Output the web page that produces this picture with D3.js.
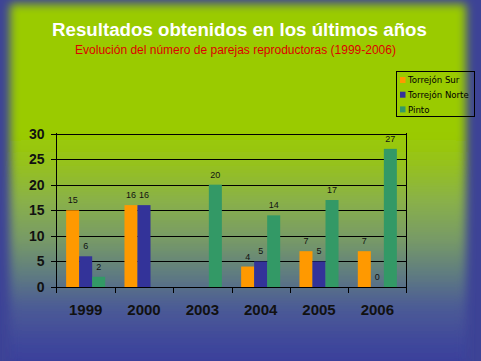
<!DOCTYPE html>
<html><head><meta charset="utf-8">
<script src="https://cdn.jsdelivr.net/npm/d3@7/dist/d3.min.js"></script>
<style>html,body{margin:0;padding:0;background:#363a9a;}svg{display:block;}</style>
</head><body>
<svg id="c" width="481" height="361"></svg>
<script>
const years = ["1999","2000","2003","2004","2005","2006"];
const seriesNames = ["Torrejón Sur","Torrejón Norte","Pinto"];
const torrejonSur   = [15, 16, null, 4, 7, 7];
const torrejonNorte = [6, 16, null, 5, 5, 0];
const pinto         = [2, null, 20, 14, 17, 27];
const yTicks = [0, 5, 10, 15, 20, 25, 30];
const colors = ["#ff9900", "#333399", "#339966"];
const title = "Resultados obtenidos en los últimos años";
const subtitle = "Evolución del número de parejas reproductoras (1999-2006)";

const seriesValues = [torrejonSur, torrejonNorte, pinto];
const svg = d3.select("#c");
const W = 481, H = 361;
const defs = svg.append("defs");

// background
const g = defs.append("linearGradient").attr("id","bg").attr("x1",0).attr("y1",0).attr("x2",0).attr("y2",1);
[[0,"#9acb00"],[0.34,"#9acb00"],[0.42,"#96c21c"],[0.52,"#89b04a"],[0.62,"#779a66"],[0.71,"#5f7c80"],[0.8,"#4b5a96"],[0.9,"#3e469b"],[1,"#35389a"]]
  .forEach(([o,c]) => g.append("stop").attr("offset",o).attr("stop-color",c));
const blur = defs.append("filter").attr("id","soft").attr("x","-10%").attr("y","-10%").attr("width","120%").attr("height","120%");
blur.append("feGaussianBlur").attr("stdDeviation",5);
svg.append("rect").attr("width",W).attr("height",H).attr("fill","#3d4396");
svg.append("rect").attr("x",10).attr("y",4).attr("width",456).attr("height",380)
  .attr("fill","url(#bg)").attr("filter","url(#soft)");

// titles
svg.append("text").attr("x",239.5).attr("y",36).attr("text-anchor","middle")
  .attr("font-family","Liberation Sans, Arial, sans-serif").attr("font-weight","bold")
  .attr("font-size",18.7).attr("fill","#ffffff").text(title);
svg.append("text").attr("x",235.5).attr("y",54).attr("text-anchor","middle")
  .attr("font-family","Liberation Sans, Arial, sans-serif")
  .attr("font-size",12).attr("fill","#dd0000").text(subtitle);

// scales
const x0 = d3.scaleBand().domain(years).range([56.5, 406.5]).paddingInner(0).paddingOuter(0);
const x1 = d3.scaleBand().domain(seriesNames).range([0, x0.bandwidth()]).paddingInner(0).paddingOuter(0.74);
const y = d3.scaleLinear().domain([0, 30]).range([287, 133.5]);

const plot = svg.append("g");
// gridlines
plot.selectAll("line.grid").data(yTicks).join("line")
  .attr("x1", 56.5).attr("x2", 406.5)
  .attr("y1", d => Math.round(y(d)) + 0.5).attr("y2", d => Math.round(y(d)) + 0.5)
  .attr("stroke", "#000").attr("stroke-width", 1);
// y ticks
plot.selectAll("line.yt").data(yTicks).join("line")
  .attr("x1", 51).attr("x2", 56.5)
  .attr("y1", d => Math.round(y(d)) + 0.5).attr("y2", d => Math.round(y(d)) + 0.5)
  .attr("stroke", "#000");
// axes verticals
plot.append("line").attr("x1",56.5).attr("x2",56.5).attr("y1",133).attr("y2",293).attr("stroke","#000");
plot.append("line").attr("x1",406.5).attr("x2",406.5).attr("y1",133).attr("y2",293).attr("stroke","#000");
// x ticks at band boundaries
const bounds = years.map(d => x0(d)).slice(1);
plot.selectAll("line.xt").data(bounds).join("line")
  .attr("x1", d => Math.round(d) + 0.5).attr("x2", d => Math.round(d) + 0.5)
  .attr("y1", 287).attr("y2", 293).attr("stroke", "#000");

// y labels
plot.selectAll("text.yl").data(yTicks).join("text")
  .attr("x", 44.5).attr("y", d => y(d) + 5)
  .attr("text-anchor","end").attr("font-family","Liberation Sans, Arial, sans-serif")
  .attr("font-weight","bold").attr("font-size",14).attr("fill","#111")
  .text(d => d);
// x labels
plot.selectAll("text.xl").data(years).join("text")
  .attr("x", d => x0(d) + x0.bandwidth()/2).attr("y", 315)
  .attr("text-anchor","middle").attr("font-family","Liberation Sans, Arial, sans-serif")
  .attr("font-weight","bold").attr("font-size",15).attr("fill","#111")
  .text(d => d);

// bars
const barData = [];
years.forEach((yr, i) => seriesNames.forEach((s, j) => {
  const v = seriesValues[j][i];
  if (v !== null) barData.push({yr, s, j, v});
}));
plot.selectAll("rect.bar").data(barData).join("rect")
  .attr("x", d => x0(d.yr) + x1(d.s)).attr("width", x1.bandwidth())
  .attr("y", d => y(d.v)).attr("height", d => y(0) - y(d.v))
  .attr("fill", d => colors[d.j]);
plot.selectAll("text.val").data(barData).join("text")
  .attr("x", d => x0(d.yr) + x1(d.s) + x1.bandwidth()/2).attr("y", d => y(d.v) - 7)
  .attr("text-anchor","middle").attr("font-family","Liberation Sans, Arial, sans-serif")
  .attr("font-size",9).attr("fill","#111").text(d => d.v);

// legend
const lg = svg.append("g");
lg.append("rect").attr("x",396.5).attr("y",71.5).attr("width",78).attr("height",45)
  .attr("fill","none").attr("stroke","#000");
seriesNames.forEach((s, j) => {
  const cy = 80 + j * 14.7;
  lg.append("rect").attr("x",400).attr("y",cy-3).attr("width",5.5).attr("height",6).attr("fill",colors[j]);
  lg.append("text").attr("x",408).attr("y",cy+3.2).attr("font-family","DejaVu Sans, sans-serif")
    .attr("font-size",8.6).attr("fill","#000").text(s);
});
</script>
</body></html>
